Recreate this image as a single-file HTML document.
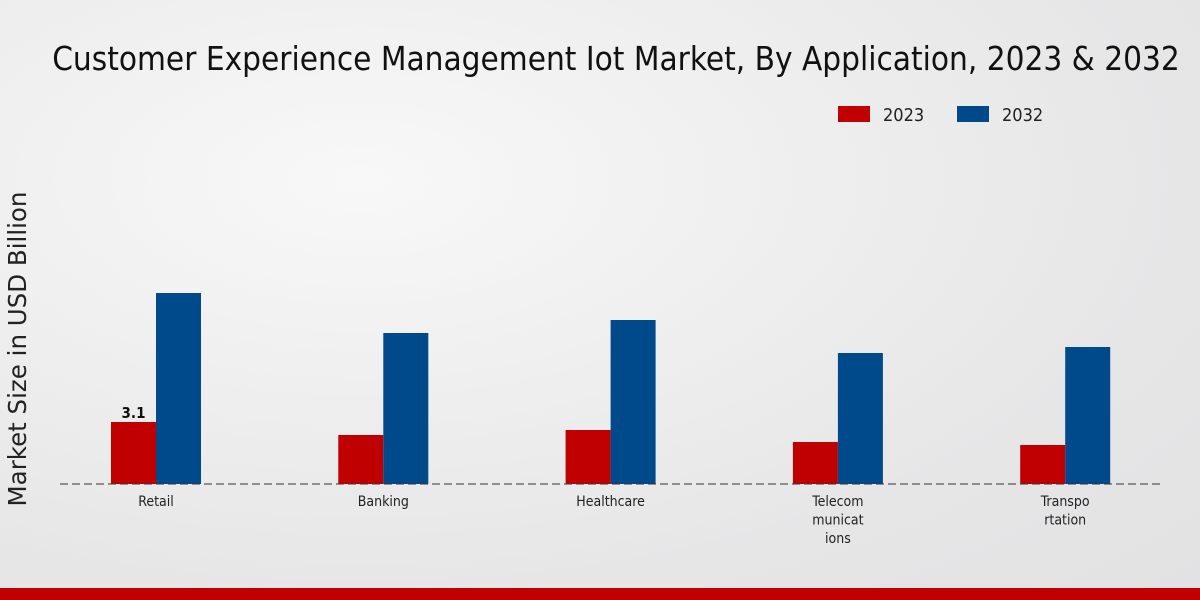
<!DOCTYPE html>
<html><head><meta charset="utf-8"><style>
html,body{margin:0;padding:0;width:1200px;height:600px;overflow:hidden}
body{background:radial-gradient(ellipse at 30% 30%,#f8f8f8 0%,#e6e6e7 70%,#e2e2e3 100%);font-family:"DejaVu Sans Condensed","DejaVu Sans","Liberation Sans",sans-serif}
svg text{font-family:"DejaVu Sans Condensed","DejaVu Sans","Liberation Sans",sans-serif}
</style></head><body>
<svg id="chart" width="1200" height="600">
<text x="616" y="70" text-anchor="middle" font-size="33" fill="#111">Customer Experience Management Iot Market, By Application, 2023 &amp; 2032</text>
<g>
<rect x="838" y="106" width="32" height="16" fill="#c00000"/>
<text x="883" y="121" font-size="18" fill="#222">2023</text>
<rect x="957" y="106" width="32" height="16" fill="#004a8c"/>
<text x="1002" y="121" font-size="18" fill="#222">2032</text>
</g>
<text transform="translate(26,349) rotate(-90)" text-anchor="middle" font-size="24.5" fill="#222" style="font-family:'DejaVu Sans',sans-serif">Market Size in USD Billion</text>
<g id="bars"></g>
<line x1="60" y1="484" x2="1160" y2="484" stroke="#333" stroke-dasharray="8,4" stroke-width="1"/>
<rect x="0" y="588" width="1200" height="12" fill="#c00000"/>
</svg>
<script>
const categories=[["Retail"],["Banking"],["Healthcare"],["Telecom","municat","ions"],["Transpo","rtation"]];
const values2023=[3.1,2.45,2.7,2.1,1.95];
const values2032=[9.55,7.55,8.2,6.55,6.85];
const ns="http://www.w3.org/2000/svg";
const g=document.getElementById("bars");
const baseY=484,scale=20,x0=156,step=227.3,bw=45;
const yPix=v=>baseY-v*scale;
const xc=i=>x0+i*step;
function mk(t,a){const e=document.createElementNS(ns,t);for(const k in a)e.setAttribute(k,a[k]);return e;}
categories.forEach((c,i)=>{
 const r=mk("rect",{x:xc(i)-bw,y:yPix(values2023[i]),width:bw,height:values2023[i]*scale,fill:"#c00000"});
 
 
 g.appendChild(r);
 const b=mk("rect",{x:xc(i),y:yPix(values2032[i]),width:bw,height:values2032[i]*scale,fill:"#004a8c"});
 
 
 g.appendChild(b);
 c.forEach((line,j)=>{
  const t=mk("text",{x:xc(i),y:506+j*18.5,"text-anchor":"middle","font-size":"14",fill:"#222"});
  t.textContent=line;
  
  
  g.appendChild(t);
 });
});
const lbl=mk("text",{x:xc(0)-bw/2,y:yPix(values2023[0])-4,"text-anchor":"middle","font-size":"15","font-weight":"bold",fill:"#111"});
lbl.textContent=String(values2023[0]);


g.appendChild(lbl);
</script>
</body></html>
